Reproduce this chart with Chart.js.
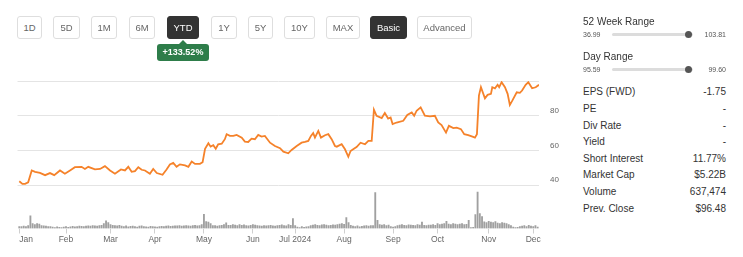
<!DOCTYPE html>
<html><head><meta charset="utf-8">
<script src="https://cdn.jsdelivr.net/npm/chart.js@4.4.1/dist/chart.umd.min.js"></script>
<style>
html,body{margin:0;padding:0;background:#fff;width:743px;height:257px;overflow:hidden;font-family:"Liberation Sans",Arial,sans-serif;}
#wrap{position:absolute;left:0;top:0;width:575px;height:257px;}
.btn{position:absolute;top:16px;height:23px;box-sizing:border-box;border:1px solid #dedede;border-radius:3px;background:#fff;color:#666;font-size:9.5px;line-height:21px;text-align:center;}
.btn.on{background:#333;border-color:#333;color:#fff;}
#badge{position:absolute;left:157px;top:44px;width:52px;height:17px;background:#2e7d4a;color:#fff;font-size:9px;font-weight:bold;line-height:17px;text-align:center;border-radius:3px;}
#arrow{position:absolute;left:179px;top:40px;width:0;height:0;border-left:4px solid transparent;border-right:4px solid transparent;border-bottom:4px solid #2e7d4a;}
.lbl{position:absolute;left:583px;font-size:10px;line-height:12px;color:#333;white-space:nowrap;}
.val{position:absolute;right:17px;font-size:10px;line-height:12px;color:#333;white-space:nowrap;text-align:right;}
.sm{position:absolute;font-size:7px;line-height:8px;color:#555;white-space:nowrap;}
.track{position:absolute;left:612px;width:81px;height:3px;background:#dcdcdc;border-radius:2px;}
.dot{position:absolute;width:7px;height:7px;border-radius:50%;background:#555;}
</style>
</head><body>
<div id="wrap"><canvas id="c"></canvas></div>
<div id="ui"></div>
<script>
// ---- data ----
const rangeButtons = ['1D','5D','1M','6M','YTD','1Y','5Y','10Y','MAX','Basic','Advanced'];
const changeText = '+133.52%';
const monthTickDays = [0,21,41,61,83,105,124,146,168,188,211,231]; // trading-day index of month start
const monthLabels = ['Jan','Feb','Mar','Apr','May','Jun','Jul 2024','Aug','Sep','Oct','Nov','Dec'];
const priceTicks = [40,60,80,100];
const closeDay = [0,1.4,2.6,4,5.6,7.1,9.3,11.6,13.8,15.7,
18.3,20.5,22.8,25,28,29.5,31,34,36.3,38.5,
40.8,43,45.7,47.5,49,50.5,52,53.5,55,56.5,
58.7,60.2,61.8,64.4,66.2,67.7,69.2,70.7,72.2,74.5,
76,77.5,79,81.2,82.4,83.5,85,86,87.2,88.3,
89.4,91,92.4,93.2,94.7,96.2,97.7,100,101.4,102.9,
104.4,105.9,107.4,108.9,110.4,112.7,114.9,117.2,118.7,120.9,
122.4,124.7,126.9,128.4,129.9,131.1,132.1,132.9,134.4,135.6,
137.4,138.9,140.4,141.9,142.7,144.9,146.4,147.9,148.9,150.4,
151.6,153.4,155.4,156.9,158.4,159.4,160.6,162.9,164.3,165.8,
166.9,167.8,169.6,172.6,174.4,176.4,177.5,178.6,180.4,182.3,
184.6,186.8,188.3,189.8,191.8,193.1,195.1,196.6,198.5,200,
201.8,204,204.8,205.7,206.6,207.5,209.3,210.5,212,212.6,
213.8,215,215.7,216.8,218.3,219.5,220.5,221.6,223.6,225,
226,227.6,228.8,230.5,232.1,233.6];
const closePrice = [42.3,40.8,40.8,41.7,48.5,47.7,47.1,45.8,47,45.8,
48.5,46.6,48.5,50.4,50.6,49.4,50.6,49.1,49.4,51,
48.5,46.6,49.1,48.5,50.6,47.7,48.1,50.4,48.9,48.5,
46.6,49.4,47,46,49.1,52,52.9,50.6,52,51.4,
50.6,53.7,52.3,52.3,53.3,61,64.2,62.2,63,61,
63.6,63.9,66.5,69.4,68.4,68.4,69,67.4,65.1,64.9,
66.8,66.5,69,68,68.4,64.5,62.6,61.3,59.3,58.4,
60.3,62.6,64.5,64.9,65.5,68.4,70,67.4,71.3,67.4,
68.8,69.4,66.5,62.6,62.2,63.6,60.7,56.4,59.7,61,
62,64.5,63.6,65.5,65.5,83.5,80,78.7,81.6,78.4,
79,75.2,76.1,77.1,80.4,81.9,80,82.9,84.8,80,
79.6,80,76.1,74.6,70.3,74.2,72.9,73.2,72.3,69.4,
68.8,67.8,67.4,69.4,91.6,96.4,90,92,92.6,96.4,
95.8,97.8,96.4,99.3,96.4,92.6,86.2,88.7,93.5,93.2,
94.5,97.8,99.3,95.8,96.4,97.8];
// daily volume, thousands of shares, trading-day index 0..233
const volumeK = [280,280,350,280,420,1780,700,560,700,630,
420,380,350,280,280,210,140,250,180,140,
210,280,180,250,320,250,280,350,300,280,
350,380,350,420,380,350,420,450,700,1080,
840,560,460,420,380,460,350,280,380,250,
320,350,280,210,350,380,280,250,210,320,
280,250,210,280,320,280,350,380,300,350,
380,380,420,350,380,420,380,350,420,460,
380,420,560,2000,980,910,700,420,420,350,
420,460,560,800,460,460,560,490,420,560,
460,530,420,380,460,560,490,420,380,350,
420,380,420,460,380,350,420,460,500,420,
380,560,460,1400,420,210,140,280,180,250,
280,420,490,560,460,420,530,560,490,420,
460,530,490,560,630,700,600,1540,840,460,
350,280,380,250,320,380,420,350,400,420,
5040,1160,560,490,560,420,490,280,210,280,
420,490,560,460,420,530,490,460,420,560,
490,910,460,420,490,490,560,460,700,560,
630,700,1020,630,560,700,630,560,630,700,
560,600,1160,140,180,1960,5100,2100,1680,940,
840,1000,910,840,980,770,700,840,770,700,
560,420,210,140,180,280,350,420,280,460,
350,280,420,210];
const statLabels = ['EPS (FWD)','PE','Div Rate','Yield','Short Interest','Market Cap','Volume','Prev. Close'];
const statValues = ['-1.75','-','-','-','11.77%','$5.22B','637,474','$96.48'];
const weekRange = ['36.99','103.81', 96.48];
const dayRange = ['95.59','99.60', 99.4];

// ---- UI (HTML) ----
const ui = document.getElementById('ui');
const btnGeom = [[17,25],[53,27],[91,26],[129,26],[167,32],[211,26],[248,25],[284,31],[326,34],[370,37],[417,55]];
let h = '';
rangeButtons.forEach((b,i)=>{
  const on = (b==='YTD'||b==='Basic') ? ' on' : '';
  h += `<div class="btn${on}" style="left:${btnGeom[i][0]}px;width:${btnGeom[i][1]}px">${b}</div>`;
});
h += `<div id="arrow"></div><div id="badge">${changeText}</div>`;
function rangeBlock(title, r, y, lo, hi){
  const frac = (r[2]-lo)/(hi-lo);
  let s = `<div class="lbl" style="top:${y-6}px">${title}</div>`;
  s += `<div class="sm" style="left:583px;top:${y+9}px">${r[0]}</div>`;
  s += `<div class="sm" style="right:17px;top:${y+9}px">${r[1]}</div>`;
  s += `<div class="track" style="top:${y+11.5}px"></div>`;
  s += `<div class="dot" style="left:${612+81*frac-3.5}px;top:${y+9.5}px"></div>`;
  return s;
}
h += rangeBlock('52 Week Range', weekRange, 21.7, parseFloat(weekRange[0]), 99.6);
h += rangeBlock('Day Range', dayRange, 56.7, parseFloat(dayRange[0]), parseFloat(dayRange[1]));
statLabels.forEach((l,i)=>{
  const y = 92.3 + i*16.6;
  h += `<div class="lbl" style="top:${y-6}px">${l}</div><div class="val" style="top:${y-6}px">${statValues[i]}</div>`;
});
ui.innerHTML = h;

// ---- chart ----
const FONT = '"Liberation Sans", Arial, sans-serif';
const xMin = -0.8, xMax = 233.6;
new Chart(document.getElementById('c'), {
  type: 'bar',
  data: {
    datasets: [
      {
        type: 'line',
        data: closeDay.map((d,i)=>({x:d, y:closePrice[i]})),
        borderColor: '#f5822a',
        borderWidth: 1.8,
        pointRadius: 0,
        tension: 0,
        yAxisID: 'y',
        order: 0
      },
      {
        type: 'bar',
        data: volumeK.map((v,i)=>({x:i, y:v})),
        backgroundColor: '#a0a0a0',
        barThickness: 1.2,
        yAxisID: 'yv',
        order: 1
      }
    ]
  },
  options: {
    responsive: true,
    maintainAspectRatio: false,
    animation: false,
    layout: { padding: { left: 17.5, top: 81, right: 0, bottom: 0 } },
    plugins: { legend: { display: false }, tooltip: { enabled: false } },
    scales: {
      x: {
        type: 'linear', min: xMin, max: xMax, offset: false,
        afterBuildTicks: s => { s.ticks = monthTickDays.map(v=>({value:v})).concat([{value:xMax}]); },
        afterFit: s => { s.height = 28.5; },
        grid: { offset: false, drawOnChartArea: false, drawTicks: true, tickLength: 5,
                tickColor: ctx => (ctx.index === monthTickDays.length ? 'rgba(0,0,0,0)' : '#cfcfcf') },
        border: { display: false },
        ticks: {
          autoSkip: false, maxRotation: 0, align: 'inner', padding: 1,
          color: '#666', font: { family: FONT, size: 8.5 },
          callback: (v, i) => (i < monthLabels.length ? monthLabels[i] : '')
        }
      },
      y: {
        position: 'right', min: 15.1, max: 100,
        afterBuildTicks: s => { s.ticks = priceTicks.map(v=>({value:v})); },
        afterFit: s => { s.width = 36; },
        grid: { color: '#e4e4e4', drawTicks: false, lineWidth: 1 },
        border: { display: false },
        ticks: {
          padding: 11, crossAlign: 'near', labelOffset: -5,
          color: '#666', font: { family: FONT, size: 8 },
          callback: v => (v >= 100 ? '' : String(v))
        }
      },
      yv: {
        display: false, min: 0, max: 20650
      }
    }
  }
});
</script>
</body></html>
